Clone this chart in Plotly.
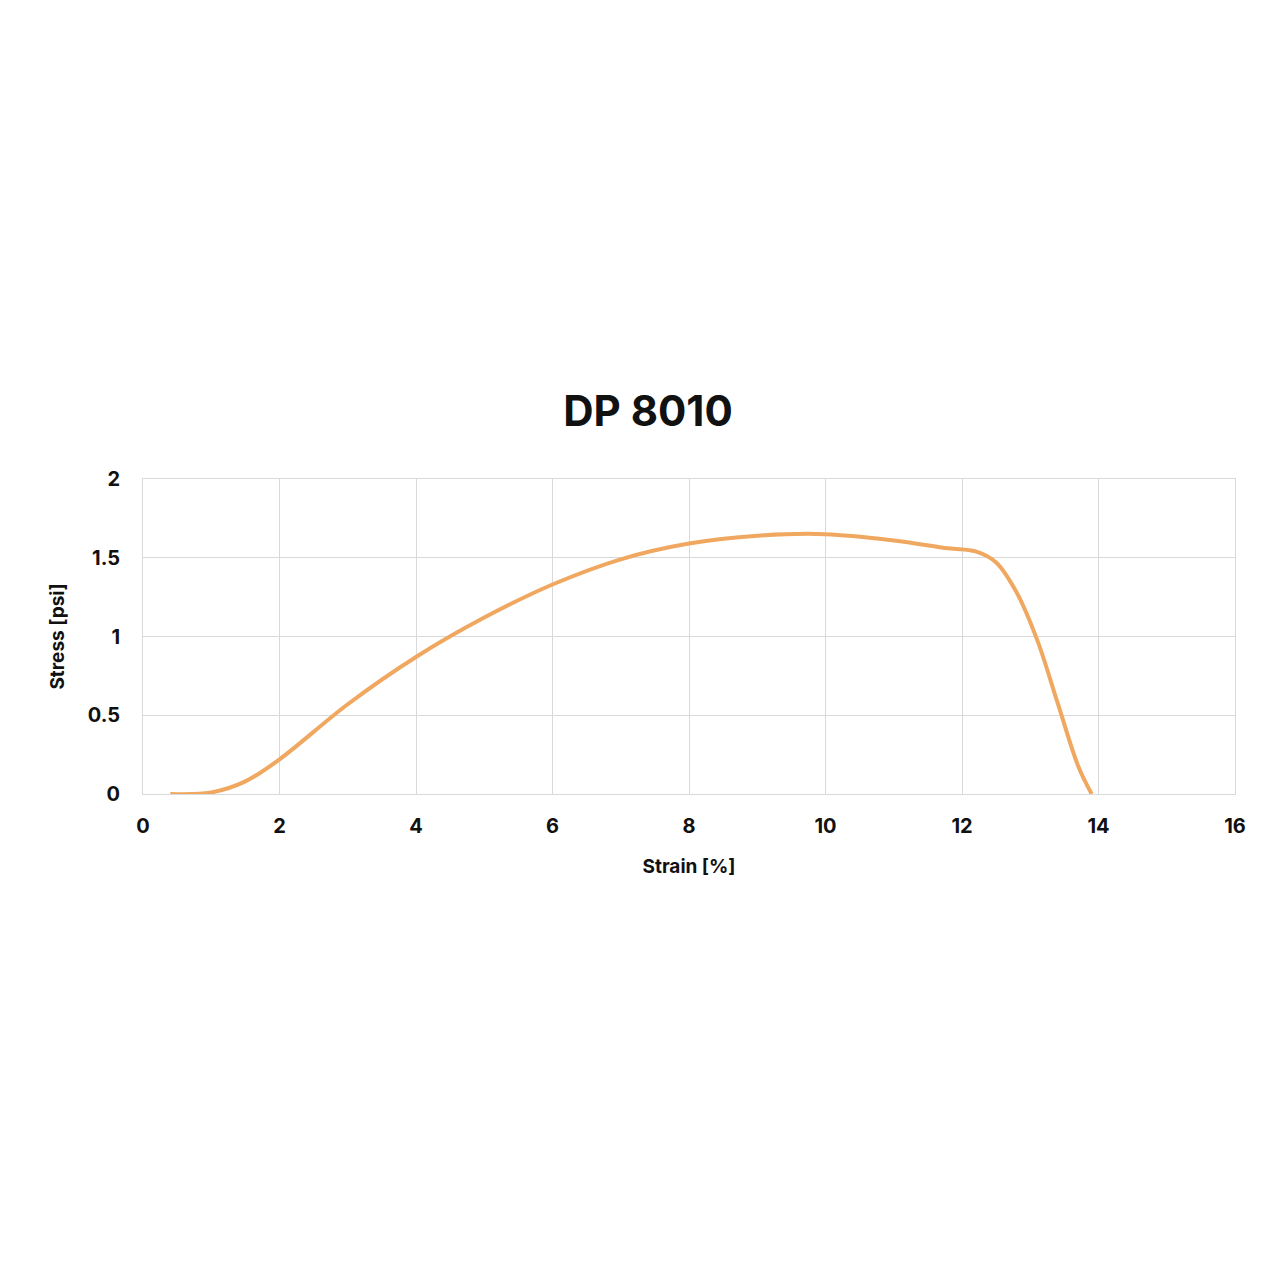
import plotly.graph_objects as go

strain = [0.4, 1.0, 1.5, 2.0, 3.0, 4.0, 5.0, 6.0, 7.0, 8.0, 9.0, 10.0, 11.0, 11.8, 12.2, 12.5, 12.8, 13.1, 13.4, 13.7, 13.9]
stress = [0.0, 0.01, 0.08, 0.22, 0.57, 0.87, 1.12, 1.33, 1.49, 1.59, 1.64, 1.65, 1.61, 1.56, 1.54, 1.47, 1.28, 0.98, 0.58, 0.18, 0.0]

fig = go.Figure(go.Scatter(x=strain, y=stress, mode="lines", line=dict(color="#F0A860", width=4, shape="spline"), showlegend=False))
fig.update_layout(
    width=1280, height=1280, paper_bgcolor="white", plot_bgcolor="white",
    margin=dict(l=135, r=53, t=471, b=494),
    font=dict(family="Inter, Roboto, sans-serif", color="#111", size=20),
    title=dict(text="<b>DP 8010</b>", x=0.5, xanchor="center", y=0.685, yanchor="middle", font=dict(size=42, color="#111")),
)
fig.update_xaxes(range=[0, 16], dtick=2, showgrid=True, gridcolor="#d9d9d9", zeroline=False,
                 showline=True, linecolor="#d9d9d9", mirror=True, tickfont=dict(size=20, family="Inter"),
                 ticklabelstandoff=14,
                 title=dict(text="<b>Strain [%]</b>", font=dict(size=19), standoff=22), ticks="", tickprefix="<b>", ticksuffix="</b>")
fig.update_yaxes(range=[0, 2], dtick=0.5, showgrid=True, gridcolor="#d9d9d9", zeroline=False,
                 showline=True, linecolor="#d9d9d9", mirror=True, tickfont=dict(size=20, family="Inter"),
                 ticklabelstandoff=18,
                 title=dict(text="<b>Stress [psi]</b>", font=dict(size=19), standoff=18), ticks="", tickprefix="<b>", ticksuffix="</b>")
fig.write_html("out.html")
